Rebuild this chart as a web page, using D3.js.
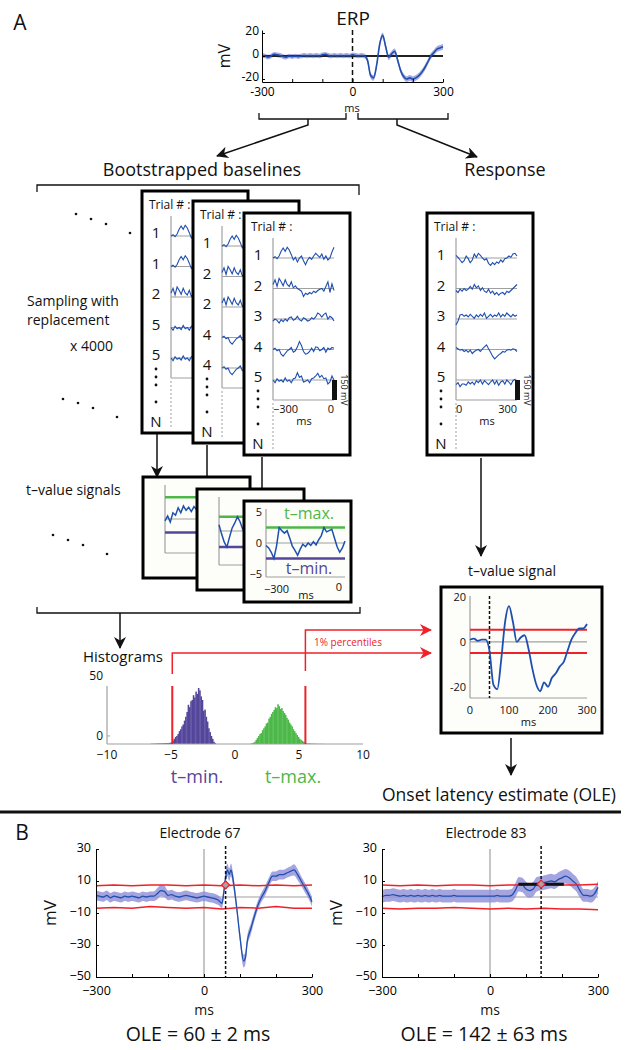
<!DOCTYPE html>
<html><head><meta charset="utf-8">
<script src="https://cdn.jsdelivr.net/npm/d3@7/dist/d3.min.js"></script>
<style>html,body{margin:0;padding:0;background:#fff;}svg{display:block;}</style>
</head><body>
<svg id="fig" width="629" height="1050"></svg>
<script>
// ================= DATA =================
const msBase = [-300,-290,-280,-270,-260,-250,-240,-230,-220,-210,-200,-190,-180,-170,-160,-150,-140,-130,-120,-110,-100,-90,-80,-70,-60,-50,-40,-30,-20,-10,0];
const msResp = [0,10,20,30,40,50,60,70,80,90,100,110,120,130,140,150,160,170,180,190,200,210,220,230,240,250,260,270,280,290,300];
const msFull = msBase.concat(msResp.slice(1));

const erpMean = [0.5,0,-1,0,1.5,1,0.5,-0.5,-1,0, -0.5,0,-0.5,0,0.5,0,0.5,0,0.5,0, 1,1.5,0.5,0,0.5,0,0.5,0,0.5,0, 1, 0.5,0,0.5,0,
  -4,-17,-19,-8,10,18,8,-1,2,4, -4,-13,-18,-20,-19,-20,-19,-17,-14,-10, -5,0,3,6,7,8];
const erpSem = [2,2,2,2,2,2,2,2,2,2, 2,2,2,2,2,2,2,2,2,2, 2,2,2,2,2,2,2,2,2,2, 2, 2,2,2,2,
  2.5,2.5,2.5,2.5,2.5,2.5,2.5,2.5,2.5,2.5, 2.5,2.5,2.5,2.5,2.5,2.5,2.5,2.5,2.5,2.5, 2.5,2.5,2.5,2.5,2.5,2.5];

// single-trial baseline segments (mV), -300..0 ms
const trialsBase = [
  [0,10,-5,15,50,75,50,80,60,25,-15,5,-30,0,15,-20,-50,-15,5,-10,15,35,20,5,30,-10,15,-15,0,45,80],
  [30,65,15,75,50,20,65,30,15,50,5,20,0,-10,-20,-60,-35,-45,-30,-40,-20,-30,-15,-5,0,-20,15,50,-30,35,-15],
  [-15,0,-10,-30,-5,-20,0,-15,10,15,-10,0,20,-5,-15,10,0,-15,-10,10,0,15,45,35,15,35,45,0,20,10,-15],
  [0,10,-10,0,-35,-50,-30,-10,0,15,-20,-10,20,60,30,-15,-35,-30,-15,10,-15,20,15,-10,0,15,-20,10,0,15,10],
  [0,-20,10,-10,0,-15,15,-10,0,-20,10,15,55,20,30,-15,-10,0,-20,10,15,30,50,20,35,10,15,-30,-15,30,0]
];
// single-trial responses (mV), 0..300 ms
const trialsResp = [
  [20,5,-15,-35,-20,15,-5,-35,-15,30,5,35,20,0,-15,-5,-40,-55,-35,-50,-30,-40,-15,-30,-5,0,15,5,30,35,15],
  [-15,-30,-5,-20,0,-15,-5,15,-5,30,5,20,-15,5,-20,-30,-5,-35,-20,-45,-30,-50,-35,-30,-45,-20,-30,-15,0,15,30],
  [-45,-15,30,35,20,30,15,35,20,5,30,15,35,20,45,5,20,35,15,30,20,45,15,35,20,45,30,15,35,20,30],
  [15,5,-5,0,-15,-5,-20,-5,-30,-15,-5,0,-15,5,20,35,5,-20,-50,-70,-55,-40,-30,-15,-20,-5,0,-5,5,0,-15],
  [-35,-20,-50,-30,-30,-40,-15,-30,-15,-35,-5,-20,0,-30,-5,-20,-35,-15,0,-30,-5,-40,-15,-5,-30,0,-15,-35,-5,5,-30]
];
const box1Rows = [1,1,2,5,5];
const box2Rows = [1,2,2,4,4];
const box3Rows = [1,2,3,4,5];
const respRows = [1,2,3,4,5];

// bootstrapped t-value signals, -300..0 ms
const tSamp1 = [-0.3,0.5,-0.5,1,0.6,1.8,1,2.1,1.4,1.9,1.2,2,1.5,0.5,0,1,2.5,3.5,2,1,0,-1,-2.2,-1.5,-0.5,0.5,1,0,-0.5,0.2,0.8];
const tSamp2 = [1,-0.5,-1.8,-2.6,-1,0.5,1.3,2.3,1.5,0.3,-0.5,0.2,-0.8,-0.3,0.5,1.2,0.8,0,-1,-1.5,-0.5,0.3,1,0.5,-0.2,0.4,1.1,0.6,-0.3,0.2,0.5];
const tSamp3 = [-0.4,-0.8,-1.5,-2.5,-0.5,2.5,2,1.6,2,0.8,-0.5,-1.2,-2,-1,-0.2,-0.6,0,-0.4,0.2,-0.3,0.5,1.2,2.5,1.8,2,2.2,0.8,-0.6,-1.5,-0.8,0.3];

// histograms of t-min / t-max (bin width 0.1)
const histBin = 0.1;
const histMinStart = -6.6;
const histMin = [-6.5,-6.5,-6.4,-6.5,-6.3,-6.4,-6.2,-6.3,-6.1,-6.2,-6,-6.1,-5.9,-6,-5.8,-5.6,-5.5,
  -4,-2.4,-0.8,0,1.6,4,5.6,8,9.6,12.8,16,20,26,24,29,30,34,32,37,35,40,38,33,30,21,22,16,12,6.4,3.2,0,-2.4,-4.8,-6];
const histMaxStart = 1.2;
const histMax = [-6.4,-6,-5.6,-4.8,-3.2,-1.6,0,1.6,2.4,4.8,6.4,8,10.4,11.2,14.4,16,18.4,20,21.6,24,
  23.2,26.4,24.8,22.4,23.2,20.8,19.2,17.6,15.2,13.6,11.2,9.6,8,5.6,4,2.4,0.8,-0.8,-2.4,-3.2,-4,-4.8,-5.6,-6,
  -6.2,-6.3,-6.1,-6.4,-6.3,-6.5,-6.4,-6.5,-6.5,-6.6,-6.5,-6.6,-6.6,-6.6];
const pctLow = -4.9, pctHigh = 5.5;

// t-value signal of the response, 0..300 ms
const tSignal = [1,1.5,0.5,1,1,-4,-19,-21,-8,9,16,9,0,2,3,-3,-12,-19,-22,-18,-20,-16,-14,-11,-9,-4,1,4,6,6,8];

// panel B
const e67Time = msBase.concat([10,20,30,40,50,55,60,65,70,75,80,90,100,110,115,120,130,140,150,160,170,180,190,200,210,220,230,240,250,260,270,280,290,300]);
const e67Mean = [1,0.5,0,1,-0.5,0.5,0,-0.5,0.5,0, 0.5,0,-0.5,0.5,0,0.5,0.5,2,4,3.5, 1,1.5,0.5,0,0.5,1,0.5,0,-0.5,0, 0.5,
  0,-0.5,-1,-2,-4, 3,12,17,14,17,12,-5,-25,-40,-38,-28,-20,-12,-5,0,4,9,13,13,14,14,15,16,17,14,10,6,2,-3];
const e67Sem = [3,3,3,3,3,3,3,3,3,3, 3,3,3,3,3,3,3,3.5,3.5,3.5, 3,3,3,3,3,3,3,3,3,3, 3,
  3,3,3,3,3, 3.5,4,4,4,4,4,3.5,3.5,4,4,3.5,3.5,3,3,3,3,3,3,3,3,3,3,3,3.5,3.5,3,3,3,3];
const e83Mean = [0,1,1,1.5,1,0.5,1,0.5,1,0.5, 1,0.5,1,0.5,1,0.5,1,0.5,0.5,0.5, 1,0.5,0.5,0.5,0.5,0.5,0.5,0.5,0.5,0.5,
  0.5,0.5,1,0.5,0.5,0.5, 1,4,8,7.5,5,4,5,8,8.5,9,9.5,10,9.5,11,12,13,12,10,8,4,1,1,0.5,2,6];
const e83Sem = [4,4,4,4,4,4,4,4,4,4, 4,4,4,4,4,4,4,4,4,4, 4,4,4,4,4,4,4,4,4,4,
  4,4,4,4,4,4, 4,4.5,4.5,4.5,4.5,4.5,4.5,4.5,4.5,4.5,4.5,4.5,4.5,4.5,4.5,4.5,4.5,4.5,4.5,4.5,4,4,4,4,4];
const thrTime = [-300,-250,-200,-150,-100,-50,0,50,100,150,200,250,300];
const e67Up = [7,7.5,7,7.5,7.5,7,7.5,7,7.5,7,7.5,7,7.5];
const e67Lo = [-7,-6.5,-7,-6,-6.5,-7,-6.5,-7.5,-6.5,-7,-6,-7,-7];
const e83Up = [7.5,7,7.5,7,7.5,7.5,7,7.5,7.5,8,7.5,7.5,8];
const e83Lo = [-7,-7.5,-7,-7,-6.5,-7,-7.5,-7,-7.5,-7,-7.5,-7.5,-8];
const e67Ole = 60, e67OleSd = 2, e67OleY = 7.5;
const e83Ole = 142, e83OleSd = 63, e83OleY = 8;

// ================= DRAWING =================
const svg = d3.select('#fig');
const F = "'Open Sans', 'Noto Sans', Arial, sans-serif";
const BLUE = '#1f4fae', BAND = '#8d8fd8', RED = '#ee2228', GREEN = '#4cb848', PURPLE = '#54469b', GRAY = '#a0a0a0';

function T(g, x, y, s, o = {}) {
  const t = g.append('text').attr('x', x).attr('y', y).text(s)
    .attr('font-family', F).attr('font-size', o.fs || 12)
    .attr('fill', o.fill || '#111').attr('text-anchor', o.anchor || 'middle');
  if (o.rot) t.attr('transform', `rotate(${o.rot},${x},${y})`);
  return t;
}
function L(g, x1, y1, x2, y2, stroke, w, dash) {
  const l = g.append('line').attr('x1', x1).attr('y1', y1).attr('x2', x2).attr('y2', y2)
    .attr('stroke', stroke || '#000').attr('stroke-width', w || 1);
  if (dash) l.attr('stroke-dasharray', dash);
  return l;
}
const defs = svg.append('defs');
function marker(id, color) {
  defs.append('marker').attr('id', id).attr('viewBox', '0 0 12 12').attr('refX', 11).attr('refY', 6)
    .attr('markerWidth', 12).attr('markerHeight', 12).attr('markerUnits', 'userSpaceOnUse').attr('orient', 'auto')
    .append('path').attr('d', 'M0,0 L12,6 L0,12 L3.5,6 Z').attr('fill', color);
}
marker('ahk', '#111'); marker('ahr', RED);
function arrow(g, pts, color, id) {
  g.append('path').attr('d', d3.line()(pts)).attr('fill', 'none').attr('stroke', color).attr('stroke-width', 1.5)
    .attr('marker-end', `url(#${id})`);
}
function path(g, d, stroke, w) {
  return g.append('path').attr('d', d).attr('fill', 'none').attr('stroke', stroke || '#111').attr('stroke-width', w || 1.5);
}

const root = svg.append('g');
T(root, 20, 30, 'A', { fs: 21 });

// ---------- ERP ----------
{
  const g = svg.append('g');
  const x = d3.scaleLinear([-300, 300], [262, 443]);
  const y = d3.scaleLinear([-22.6, 22.6], [82, 30]);
  T(g, 353, 25, 'ERP', { fs: 19 });
  g.append('path').datum(msFull)
    .attr('d', d3.area().x(d => x(d)).y0((d, i) => y(erpMean[i] - erpSem[i])).y1((d, i) => y(erpMean[i] + erpSem[i])).curve(d3.curveMonotoneX))
    .attr('fill', BAND).attr('opacity', 0.75);
  L(g, x(-300), y(0), x(300), y(0), '#222', 2);
  L(g, x(0), y.range()[1], x(0), y.range()[0], '#111', 1.5, '5,3');
  g.append('path').datum(msFull).attr('d', d3.line().x(d => x(d)).y((d, i) => y(erpMean[i])).curve(d3.curveMonotoneX))
    .attr('fill', 'none').attr('stroke', BLUE).attr('stroke-width', 1.6);
  const ax = g.append('g').attr('transform', `translate(0,${y.range()[0]})`)
    .call(d3.axisBottom(x).tickValues([-300, -200, -100, 0, 100, 200, 300]).tickSize(-3).tickSizeOuter(0).tickPadding(5)
      .tickFormat(d => [-300, 0, 300].includes(d) ? String(d) : ''));
  ax.attr('font-family', F).attr('font-size', 12);
  const ay = g.append('g').attr('transform', `translate(${x.range()[0]},0)`)
    .call(d3.axisLeft(y).tickValues([-20, 0, 20]).tickSize(-3).tickSizeOuter(0).tickPadding(3).tickFormat(d => String(d)));
  ay.attr('font-family', F).attr('font-size', 12);
  ay.selectAll('text').attr('dy', '0.15em');
  T(g, 352, 112, 'ms', { fs: 11 });
  T(g, 230, 56, 'mV', { fs: 16, rot: -90 });
  // brackets + arrows
  path(g, 'M259,113 V119 H346 V113', '#111', 1.3);
  path(g, 'M358,113 V119 H448 V113', '#111', 1.3);
  arrow(g, [[308, 119], [308, 125], [217, 156]], '#111', 'ahk');
  arrow(g, [[397, 119], [397, 125], [477, 157]], '#111', 'ahk');
}
T(root, 202, 176, 'Bootstrapped baselines', { fs: 18 });
T(root, 505, 176, 'Response', { fs: 18 });
path(root, 'M37,192 V185 H359 V195', '#111', 1.3);

// dots & side labels
[[76, 214], [91, 219], [106, 224], [130, 233], [63, 399], [78, 403], [93, 408], [117, 417],
 [53, 535], [68, 540], [83, 545], [107, 554]].forEach(p => root.append('circle').attr('cx', p[0]).attr('cy', p[1]).attr('r', 1.3).attr('fill', '#111'));
T(root, 27, 306, 'Sampling with', { fs: 14, anchor: 'start' });
T(root, 27, 325, 'replacement', { fs: 14, anchor: 'start' });
T(root, 70, 351, 'x 4000', { fs: 14, anchor: 'start' });
T(root, 26, 495, 't\u2013value signals', { fs: 14, anchor: 'start' });

// ---------- trial boxes ----------
const BW = 106, BH = 242;
function trialBox(left, top, rows, data, times, ticks, front) {
  const g = svg.append('g');
  g.append('rect').attr('x', left).attr('y', top).attr('width', BW).attr('height', BH)
    .attr('fill', '#fff').attr('stroke', '#000').attr('stroke-width', 3);
  const ax = left + 29;
  const x = d3.scaleLinear(d3.extent(times), [ax, ax + 61]);
  T(g, left + 7, top + 18, 'Trial # :', { fs: 12, anchor: 'start' });
  L(g, ax, top + 25, ax, top + 187, GRAY, 1.2);
  L(g, ax, top + 187, ax + 61, top + 187, GRAY, 1.2);
  rows.forEach((r, i) => {
    const yc = top + 42 + i * 30.5;
    const yb = yc + 3;
    T(g, left + 14, yc + 5, String(r), { fs: 15 });
    L(g, ax, yb, ax + 61, yb, GRAY, 1.2);
    const y = d3.scaleLinear([0, 150], [yb, yb - 20]);
    g.append('path').datum(data[r - 1]).attr('d', d3.line().x((d, j) => x(times[j])).y(d => y(d)))
      .attr('fill', 'none').attr('stroke', BLUE).attr('stroke-width', 1.1);
  });
  const y5 = top + 42 + 4 * 30.5;
  [14, 22, 30, 47].forEach(o => g.append('circle').attr('cx', left + 14).attr('cy', y5 + o).attr('r', 1.4).attr('fill', '#111'));
  T(g, left + 14, y5 + 72, 'N', { fs: 15 });
  L(g, ax, top + 190, ax, top + 238, GRAY, 1, '2,2');
  if (front) {
    // scale bar 150 mV
    g.append('rect').attr('x', ax + 59).attr('y', top + 187 - 20).attr('width', 5).attr('height', 20).attr('fill', '#111');
    T(g, ax + 68, top + 177, '150 mV', { fs: 9, rot: 90 });
    ticks.forEach(t => T(g, x(t.v), top + 200, t.label, { fs: 11, anchor: t.anchor }));
    T(g, ax + 31, top + 212, 'ms', { fs: 11 });
  }
}
const baseTicks = [{ v: -300, label: '\u2212300', anchor: 'start' }, { v: 0, label: '0', anchor: 'end' }];
trialBox(142, 191, box1Rows, trialsBase, msBase, baseTicks, false);
trialBox(193, 201, box2Rows, trialsBase, msBase, baseTicks, false);
trialBox(244, 213, box3Rows, trialsBase, msBase, baseTicks, true);
trialBox(427, 213, respRows, trialsResp, msResp, [{ v: 0, label: '0', anchor: 'start' }, { v: 300, label: '300', anchor: 'end' }], true);

// arrows trial -> t boxes
arrow(root, [[157, 432], [157, 477]], '#111', 'ahk');
arrow(root, [[207, 445], [207, 489]], '#111', 'ahk');
arrow(root, [[262, 457], [262, 501]], '#111', 'ahk');
arrow(root, [[481, 458], [481, 556]], '#111', 'ahk');

// ---------- t boxes ----------
function tBox(left, top, vals, labels) {
  const g = svg.append('g');
  g.append('rect').attr('x', left).attr('y', top).attr('width', 107).attr('height', 101)
    .attr('fill', '#fdfdfa').attr('stroke', '#000').attr('stroke-width', 3);
  const ax = left + 22;
  const x = d3.scaleLinear([-300, 0], [ax, ax + 79]);
  const y = d3.scaleLinear([-5.5, 5.5], [top + 76, top + 8]);
  L(g, ax, y.range()[1], ax, y.range()[0], GRAY, 1.2);
  L(g, ax, y.range()[0], ax + 79, y.range()[0], GRAY, 1.2);
  L(g, ax, y(0), ax + 79, y(0), GRAY, 1.2);
  L(g, ax, y(d3.max(vals)), ax + 79, y(d3.max(vals)), GREEN, 2.5);
  L(g, ax, y(d3.min(vals)), ax + 79, y(d3.min(vals)), PURPLE, 2.5);
  g.append('path').datum(vals).attr('d', d3.line().x((d, j) => x(msBase[j])).y(d => y(d)))
    .attr('fill', 'none').attr('stroke', BLUE).attr('stroke-width', 1.5);
  if (labels) {
    [5, 0, -5].forEach(v => T(g, ax - 4, y(v) + 4, v < 0 ? '\u2212' + Math.abs(v) : String(v), { fs: 11, anchor: 'end' }));
    T(g, x(-300) - 2, top + 92, '\u2212300', { fs: 11, anchor: 'start' });
    T(g, x(0) - 3, top + 90, '0', { fs: 11, anchor: 'end' });
    T(g, ax + 40, top + 98, 'ms', { fs: 11 });
    T(g, ax + 43, top + 18, 't\u2013max.', { fs: 16, fill: GREEN });
    T(g, ax + 43, top + 73, 't\u2013min.', { fs: 16, fill: PURPLE });
  }
}
tBox(143, 477, tSamp1, false);
tBox(197, 489, tSamp2, false);
tBox(244, 501, tSamp3, true);

path(root, 'M37,607 V613 H360 V607', '#111', 1.3);
arrow(root, [[120, 613], [120, 648]], '#111', 'ahk');

// ---------- histograms ----------
{
  const g = svg.append('g');
  const x = d3.scaleLinear([-10, 10], [107, 363]);
  const y = d3.scaleLinear([-6.7, 50], [744, 676]);
  T(g, 83, 662, 'Histograms', { fs: 15, anchor: 'start' });
  const bw = x(histBin) - x(0);
  g.selectAll('rect.mn').data(histMin).join('rect').attr('x', (d, i) => x(histMinStart + i * histBin)).attr('width', bw + 0.3)
    .attr('y', d => y(d)).attr('height', d => y.range()[0] - y(d)).attr('fill', PURPLE);
  g.selectAll('rect.mx').data(histMax).join('rect').attr('x', (d, i) => x(histMaxStart + i * histBin)).attr('width', bw + 0.3)
    .attr('y', d => y(d)).attr('height', d => y.range()[0] - y(d)).attr('fill', GREEN);
  L(g, x(-10), 686, x(-10), 744, GRAY, 1.2);
  L(g, x(-10), 744, x(10), 744, GRAY, 1.2);
  L(g, x(-10), y(0), x(-10) + 3, y(0), GRAY, 1);
  T(g, x(-10) - 4, y(50) + 4, '50', { fs: 12, anchor: 'end' });
  T(g, x(-10) - 4, y(0) + 4, '0', { fs: 12, anchor: 'end' });
  [-10, -5, 0, 5, 10].forEach(v => T(g, x(v), 759, v < 0 ? '\u2212' + Math.abs(v) : String(v), { fs: 12 }));
  // percentile markers
  L(g, x(pctLow), 686, x(pctLow), 744, RED, 2);
  L(g, x(pctHigh), 686, x(pctHigh), 744, RED, 2);
  arrow(g, [[x(pctLow), 674], [x(pctLow), 653], [431, 653]], RED, 'ahr');
  arrow(g, [[x(pctHigh), 671], [x(pctHigh), 630], [431, 630]], RED, 'ahr');
  T(g, 314, 646, '1% percentiles', { fs: 10, fill: RED, anchor: 'start' });
  T(g, 197, 783, 't\u2013min.', { fs: 18, fill: PURPLE });
  T(g, 293, 783, 't\u2013max.', { fs: 18, fill: GREEN });
}

// ---------- t-value signal ----------
{
  const g = svg.append('g');
  T(g, 512, 576, 't\u2013value signal', { fs: 14 });
  g.append('rect').attr('x', 441).attr('y', 587).attr('width', 161).attr('height', 146)
    .attr('fill', '#fdfdfa').attr('stroke', '#000').attr('stroke-width', 3);
  const x = d3.scaleLinear([0, 300], [470, 587]);
  const y = d3.scaleLinear([-25, 20.5], [698, 596]);
  L(g, x(0), y.range()[1], x(0), y.range()[0], GRAY, 1.2);
  L(g, x(0), y.range()[0], x(300), y.range()[0], GRAY, 1.2);
  L(g, x(0), y(0), x(300), y(0), GRAY, 1.2);
  L(g, x(0), y(pctHigh), x(300), y(pctHigh), RED, 2);
  L(g, x(0), y(pctLow), x(300), y(pctLow), RED, 2);
  L(g, x(e67Ole - 10), y.range()[1], x(e67Ole - 10), y.range()[0], '#111', 1.5, '3,2');
  g.append('path').datum(tSignal).attr('d', d3.line().x((d, j) => x(msResp[j])).y(d => y(d)).curve(d3.curveMonotoneX))
    .attr('fill', 'none').attr('stroke', BLUE).attr('stroke-width', 1.8);
  [20, 0, -20].forEach(v => T(g, x(0) - 4, y(v) + 4, String(v), { fs: 11, anchor: 'end' }));
  [0, 100, 200, 300].forEach(v => T(g, x(v), 714, String(v), { fs: 11 }));
  T(g, x(150), 726, 'ms', { fs: 11 });
  arrow(g, [[511, 738], [511, 775]], '#111', 'ahk');
  T(g, 499, 801, 'Onset latency estimate (OLE)', { fs: 17.5 });
}

L(root, 0, 812, 621, 812, '#111', 3);
T(root, 22, 840, 'B', { fs: 21 });

// ---------- panel B ----------
function ePlot(x0, title, time, mean, sem, up, lo, ole, oleSd, oleY) {
  const g = svg.append('g');
  const x = d3.scaleLinear([-300, 300], [x0, x0 + 216]);
  const y = d3.scaleLinear([-50, 30], [977, 849]);
  const mid = (x.range()[0] + x.range()[1]) / 2;
  T(g, mid - 4, 838, title, { fs: 14 });
  L(g, x(0), y.range()[1], x(0), y.range()[0], GRAY, 1.2);
  L(g, x(-300), y(0), x(300), y(0), GRAY, 1.2);
  g.append('path').datum(time)
    .attr('d', d3.area().x(d => x(d)).y0((d, i) => y(mean[i] - sem[i])).y1((d, i) => y(mean[i] + sem[i])).curve(d3.curveMonotoneX))
    .attr('fill', BAND).attr('opacity', 0.8);
  g.append('path').datum(time).attr('d', d3.line().x(d => x(d)).y((d, i) => y(mean[i])).curve(d3.curveMonotoneX))
    .attr('fill', 'none').attr('stroke', BLUE).attr('stroke-width', 1.3);
  [up, lo].forEach(arr => g.append('path').datum(thrTime).attr('d', d3.line().x(d => x(d)).y((d, i) => y(arr[i])))
    .attr('fill', 'none').attr('stroke', RED).attr('stroke-width', 1.5));
  L(g, x(ole - oleSd), y(oleY), x(ole + oleSd), y(oleY), '#111', 3);
  L(g, x(ole), y.range()[1] - 3, x(ole), y.range()[0], '#111', 1.5, '3,2');
  const cx = x(ole), cy = y(oleY);
  g.append('path').attr('d', `M${cx},${cy - 4} L${cx + 4},${cy} L${cx},${cy + 4} L${cx - 4},${cy} Z`)
    .attr('fill', '#b0a0a0').attr('stroke', RED).attr('stroke-width', 1.2);
  const ax = g.append('g').attr('transform', `translate(0,${y.range()[0]})`)
    .call(d3.axisBottom(x).tickValues([-300, -200, -100, 0, 100, 200, 300]).tickSize(-3).tickSizeOuter(0).tickPadding(9)
      .tickFormat(d => [-300, 0, 300].includes(d) ? d3.format('')(d) : ''));
  ax.attr('font-family', F).attr('font-size', 12.5);
  const ay = g.append('g').attr('transform', `translate(${x.range()[0]},0)`)
    .call(d3.axisLeft(y).tickValues([30, 10, -10, -30, -50]).tickSize(-3).tickSizeOuter(0).tickPadding(5));
  ay.attr('font-family', F).attr('font-size', 12.5);
  ay.selectAll('text').attr('dy', '0.22em');
  T(g, x0 - 40, 913, 'mV', { fs: 17, rot: -90 });
  T(g, x(0), 1015, 'ms', { fs: 14 });
  T(g, mid - 6, 1041, `OLE = ${ole} \u00b1 ${oleSd} ms`, { fs: 19.5 });
}
ePlot(96, 'Electrode 67', e67Time, e67Mean, e67Sem, e67Up, e67Lo, e67Ole, e67OleSd, e67OleY);
ePlot(382, 'Electrode 83', msFull, e83Mean, e83Sem, e83Up, e83Lo, e83Ole, e83OleSd, e83OleY);
</script>
</body></html>
